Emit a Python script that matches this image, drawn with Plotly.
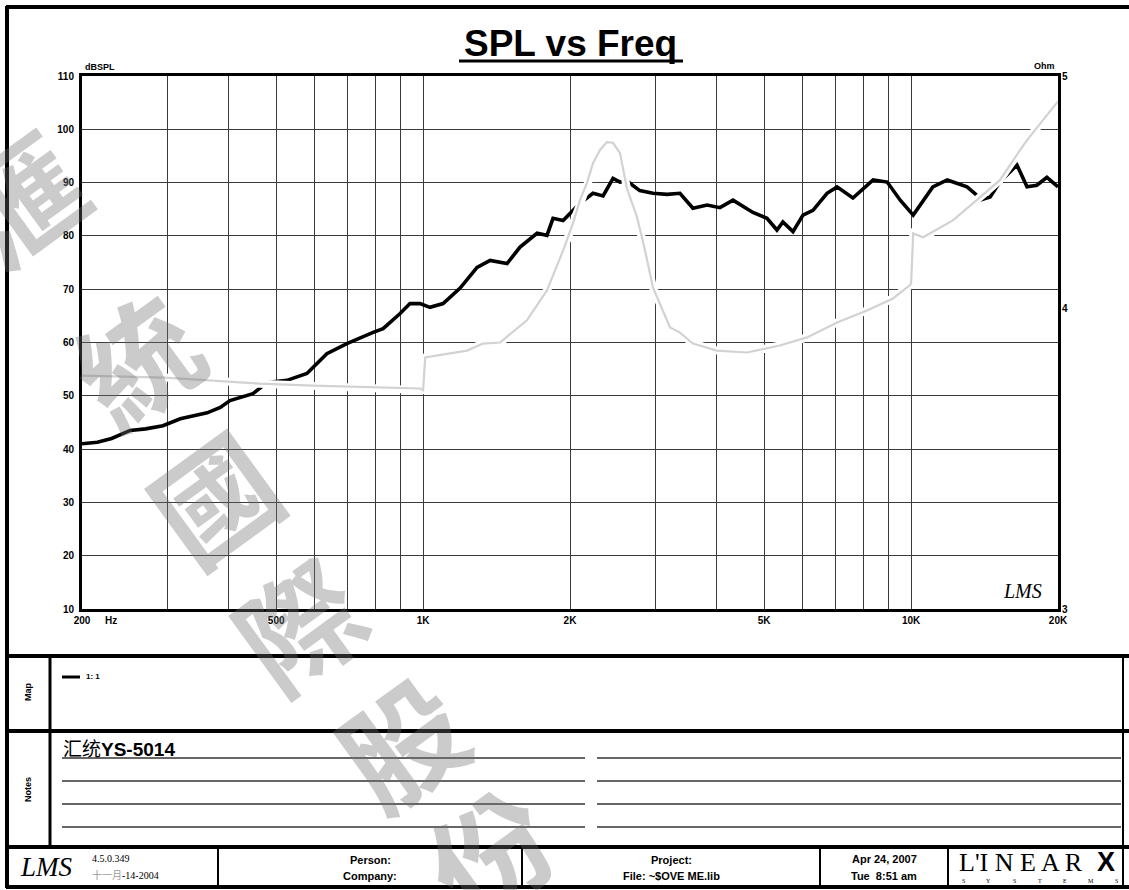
import math
import plotly.graph_objects as go

# ---------------- data ----------------
spl_freq = [200, 215, 230, 251, 270, 293, 318, 361, 384, 402, 448, 479, 526, 578, 635, 698, 790, 828,
            896, 940, 986, 1033, 1099, 1191, 1290, 1372, 1486, 1580, 1712, 1794, 1846, 1936, 2096, 2229,
            2338, 2450, 2532, 2616, 2780, 2958, 3160, 3360, 3572, 3820, 4058, 4316, 4742, 5066, 5310,
            5462, 5728, 6004, 6294, 6726, 7052, 7600, 8360, 8934, 9500, 10100, 11080, 11860, 13020,
            13650, 13840, 14520, 15200, 16480, 17280, 18100, 18980, 20000]
spl_db = [41.0, 41.3, 42.0, 43.5, 43.8, 44.4, 45.7, 46.8, 47.8, 49.1, 50.4, 52.5, 52.9, 54.2, 57.9, 59.8,
          61.9, 62.6, 65.4, 67.3, 67.3, 66.6, 67.3, 70.2, 74.1, 75.4, 74.8, 77.9, 80.5, 80.1, 83.3, 82.9,
          86.1, 88.0, 87.5, 90.8, 90.1, 90.3, 88.5, 88.0, 87.8, 88.0, 85.2, 85.8, 85.3, 86.7, 84.4, 83.3,
          81.1, 82.6, 80.8, 83.9, 84.8, 88.0, 89.2, 87.1, 90.5, 90.1, 86.7, 83.9, 89.2, 90.5, 89.2, 87.6,
          86.7, 87.3, 90.1, 93.3, 89.2, 89.5, 91.0, 89.2]

imp_freq = [200, 296, 463, 595, 986, 1000, 1010, 1135, 1231, 1326, 1437, 1632, 1794, 1936, 2028, 2096,
            2166, 2229, 2302, 2380, 2450, 2532, 2616, 2744, 2850, 2958, 3206, 3360, 3572, 4000, 4610,
            5384, 6120, 7052, 8120, 9180, 9940, 10000, 10100, 10580, 12180, 13840, 15200, 16720, 17280,
            20000]
imp_ohm = [3.752, 3.745, 3.723, 3.716, 3.706, 3.700, 3.818, 3.832, 3.843, 3.869, 3.873, 3.956, 4.071,
           4.230, 4.342, 4.439, 4.512, 4.599, 4.657, 4.693, 4.690, 4.644, 4.490, 4.367, 4.230, 4.083,
           3.929, 3.910, 3.869, 3.843, 3.836, 3.862, 3.892, 3.948, 3.994, 4.040, 4.091, 4.100, 4.300,
           4.284, 4.354, 4.451, 4.525, 4.657, 4.702, 4.880]

x_grid = [200, 300, 400, 500, 600, 700, 800, 900, 1000, 2000, 3000, 4000, 5000, 6000, 7000, 8000,
          9000, 10000, 20000]
x_labels = {200: "200", 500: "500", 1000: "1K", 2000: "2K", 5000: "5K", 10000: "10K", 20000: "20K"}
db_ticks = [10, 20, 30, 40, 50, 60, 70, 80, 90, 100, 110]
ohm_ticks = [3, 4, 5]

title = "SPL vs Freq"
note_text = "汇统YS-5014"
watermark = ["滙", "統", "國", "際", "股", "份"]

# ---------------- layout helpers ----------------
W, H = 1129, 890
L, R, T, B = 82, 1058, 76, 609
SANS = "Liberation Sans, Arial, sans-serif"
SERIF = "Liberation Serif, Times New Roman, serif"


def px(x):
    return (x - L) / (R - L)


def py(y):
    return (B - y) / (B - T)


shapes = []


def hline(y, x0, x1, w=2, color="black"):
    shapes.append(dict(type="line", xref="paper", yref="paper", x0=px(x0), x1=px(x1),
                       y0=py(y), y1=py(y), line=dict(color=color, width=w), layer="above"))


def vline(x, y0, y1, w=2, color="black"):
    shapes.append(dict(type="line", xref="paper", yref="paper", x0=px(x), x1=px(x),
                       y0=py(y0), y1=py(y1), line=dict(color=color, width=w), layer="above"))


annotations = []


def ann(text, x, y, size, xanchor="center", yanchor="middle", family=SANS, color="black",
        angle=0, bold=False, weight=None):
    if bold:
        text = "<b>" + text + "</b>"
    font = dict(family=family, size=size, color=color)
    if weight:
        font["weight"] = weight
    annotations.append(dict(text=text, x=px(x), y=py(y), xref="paper", yref="paper",
                            xanchor=xanchor, yanchor=yanchor, showarrow=False, textangle=angle,
                            font=font))


# ---------------- figure ----------------
fig = go.Figure()
fig.add_trace(go.Scatter(x=spl_freq, y=spl_db, mode="lines", yaxis="y",
                         line=dict(color="black", width=3.6), hoverinfo="skip"))
fig.add_trace(go.Scatter(x=imp_freq, y=imp_ohm, mode="lines", yaxis="y2",
                         line=dict(color="white", width=8), hoverinfo="skip"))
fig.add_trace(go.Scatter(x=imp_freq, y=imp_ohm, mode="lines", yaxis="y2",
                         line=dict(color="#d2d2d2", width=2.2), hoverinfo="skip"))

tick_font = dict(family=SANS, size=10, color="black", weight="bold")

fig.update_layout(
    width=W, height=H, autosize=False,
    margin=dict(l=L, r=W - R, t=T, b=H - B, pad=0),
    paper_bgcolor="white", plot_bgcolor="white", showlegend=False,
    xaxis=dict(type="log", range=[math.log10(200), math.log10(20000)],
               tickvals=x_grid, ticktext=[x_labels.get(v, "") for v in x_grid],
               tickfont=tick_font, ticks="", showgrid=True, gridcolor="#3a3a3a", gridwidth=1,
               showline=True, linecolor="black", linewidth=3, mirror=True, zeroline=False,
               tickangle=0),
    yaxis=dict(range=[10, 110], tickvals=db_ticks, tickfont=tick_font, ticks="",
               showgrid=True, gridcolor="#3a3a3a", gridwidth=1, showline=True, linecolor="black",
               linewidth=3, mirror=True, zeroline=False, ticklabelstandoff=3),
    yaxis2=dict(type="log", range=[math.log10(3), math.log10(5)], overlaying="y", side="right",
                tickvals=ohm_ticks, tickfont=tick_font, ticks="", showgrid=False, showline=False,
                zeroline=False, ticklabelstandoff=3),
)

# title and axis captions
ann(title, 570, 43, 37, bold=True)
hline(61, 459, 683, w=3)
ann("dBSPL", 83, 67, 9, xanchor="left", bold=True)
ann("Ohm", 1057, 66, 9, xanchor="right", bold=True)
ann("Hz", 103, 620, 10, xanchor="left", bold=True)
ann("<i>LMS</i>", 1022, 591, 20, family=SERIF)

# outer frame
hline(7, 6, W, w=4)
vline(7, 6, 888, w=4)
hline(887, 6, W, w=4)
vline(1123, 655, 888, w=2)

# Map section
hline(656, 6, W, w=4)
hline(731, 6, W, w=4)
vline(50, 656, 847, w=3)
ann("Map", 28, 692, 9, angle=-90, bold=True)
hline(677, 62, 80, w=3)
ann("1: 1", 84, 676, 8, xanchor="left", bold=True)

# Notes section
ann("Notes", 28, 790, 9, angle=-90, bold=True)
ann(note_text.replace("YS-5014", "<b>YS-5014</b>"), 61, 749, 19, xanchor="left",
    family="Liberation Sans, Noto Sans CJK SC")
for yy in [758, 781, 804, 827]:
    hline(yy, 62, 585, w=1.3, color="#333333")
    hline(yy, 597, 1121, w=1.3, color="#333333")

# footer
hline(847, 6, W, w=4)
for xx in [218, 522, 820, 948]:
    vline(xx, 847, 887, w=2)
ann("<i>LMS</i>", 46, 867, 27, family=SERIF)
ann("4.5.0.349", 90, 858, 10, xanchor="left", family=SERIF)
ann('<span style="color:#9a9a9a">十一月</span>-14-2004', 90, 875, 10, xanchor="left",
    family="Liberation Serif, Noto Sans CJK SC")
ann("Person:", 370, 860, 11, bold=True)
ann("Company:", 370, 876, 11, bold=True)
ann("Project:", 671, 860, 11, bold=True)
ann("File: ~$OVE ME.lib", 671, 876, 11, bold=True)
ann("Apr 24, 2007", 884, 859, 11, bold=True)
ann("Tue  8:51 am", 884, 876, 11, bold=True)
ann("L'I N E A R", 957, 862, 26, xanchor="left", family=SERIF)
ann("X", 1106, 862, 27, bold=True)
for i, ch in enumerate("SYSTEMS"):
    ann(ch, 963 + i * 25.5, 881, 6, family=SERIF)

# watermark
wm_pos = [(18, 195), (135, 357), (212, 495), (297, 622), (400, 740), (488, 850)]
for ch, (wx, wy) in zip(watermark, wm_pos):
    ann(ch, wx, wy, 120, family="Noto Sans CJK TC", color="rgba(110,110,110,0.36)", angle=-36,
        weight="bold")

fig.update_layout(shapes=shapes, annotations=annotations)
fig.write_html("out.html", config={"displayModeBar": False},
               post_script="document.body.style.margin='0';document.body.style.overflow='hidden';")
